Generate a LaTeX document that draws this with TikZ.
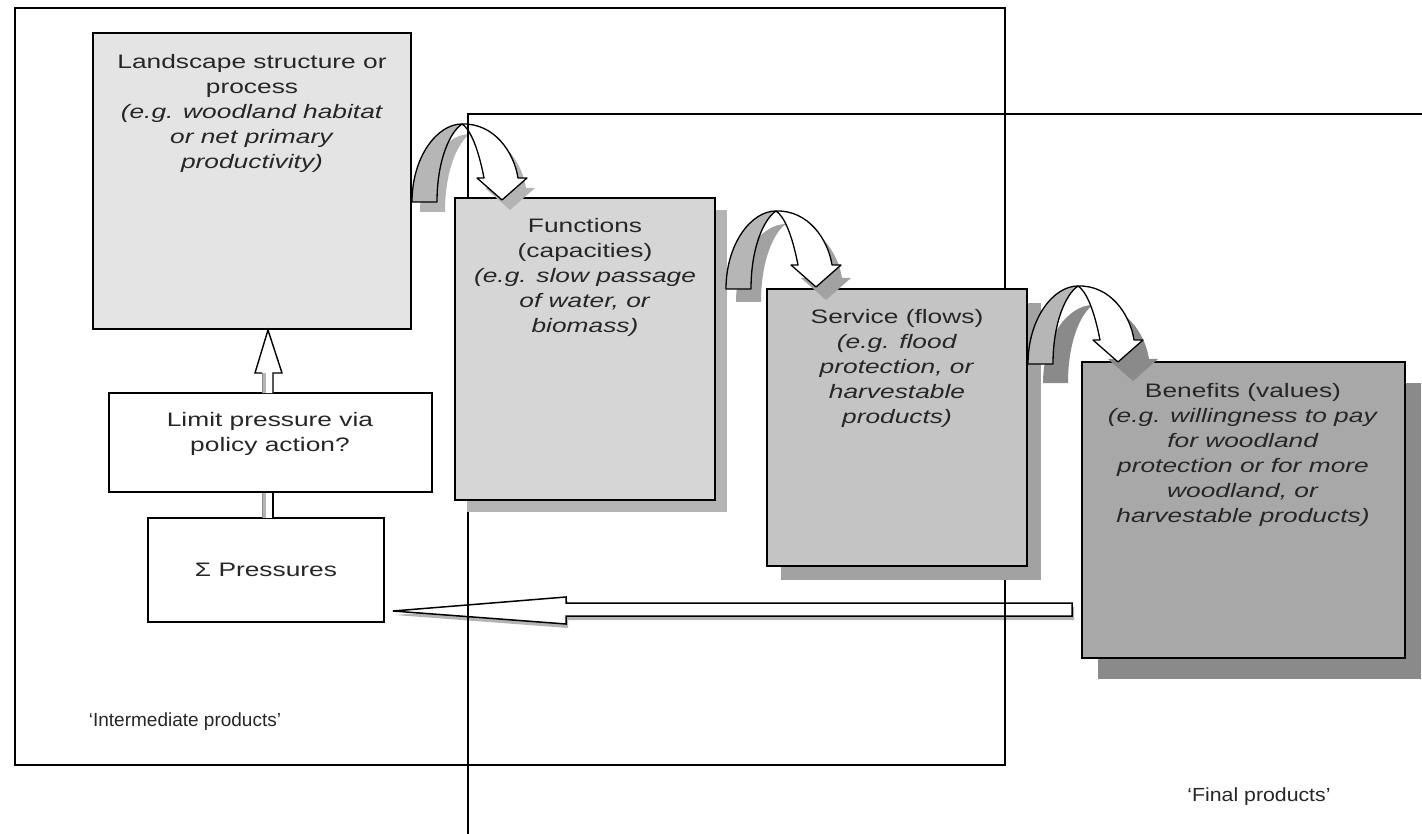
\documentclass[tikz,border=0pt]{standalone}
\usepackage{fontspec}
\setmainfont{Liberation Sans}[FakeStretch=1.35]
\newfontfamily\labfontA{Liberation Sans}[FakeStretch=1.0]
\newfontfamily\labfontB{Liberation Sans}[FakeStretch=1.12]
\usetikzlibrary{calc,shadows}
\definecolor{txtc}{HTML}{262626}
\definecolor{landfill}{HTML}{E4E4E4}
\definecolor{funcfill}{HTML}{D6D6D6}
\definecolor{servfill}{HTML}{C4C4C4}
\definecolor{benfill}{HTML}{A8A8A8}
\definecolor{shadA}{HTML}{B4B4B4}
\definecolor{shadB}{HTML}{A2A2A2}
\definecolor{shadC}{HTML}{8A8A8A}
\definecolor{bandgray}{HTML}{B6B6B6}
\newcommand\bentarrow[3]{%
\begin{scope}[shift={#1}]
 \fill[#2, shift={#3}] (0,0) .. controls (0,-45) and (25,-78) .. (50,-78)
   .. controls (82,-79) and (102,-50) .. (106,-24) -- (115,-24) -- (90,-2) -- (65,-24) -- (72,-24)
   .. controls (66,-55) and (58,-73) .. (50,-78) .. controls (38,-70) and (25,-42) .. (25,0) -- cycle;
 \filldraw[fill=bandgray, draw=black, line width=1.3pt, line join=round] (0,0) .. controls (0,-45) and (25,-78) .. (50,-78)
   .. controls (38,-70) and (25,-42) .. (25,0) -- cycle;
 \filldraw[fill=white, draw=black, line width=1.3pt, line join=round] (50,-78) .. controls (82,-79) and (102,-50) .. (106,-24)
   -- (115,-24) -- (90,-2) -- (65,-24) -- (72,-24) .. controls (66,-55) and (58,-73) .. (50,-78) -- cycle;
\end{scope}}
\begin{document}
\begin{tikzpicture}[x=1pt,y=-1pt,
  box/.style={draw=black, line width=2pt, inner sep=0pt, outer sep=0pt, anchor=north west},
  frame/.style={draw=black, line width=1.8pt},
  txt/.style={text=txtc, align=center, font=\fontsize{19.5}{25}\selectfont, inner sep=0pt},
  shad/.style 2 args={drop shadow={opacity=1, fill=#1, shadow xshift=#2pt, shadow yshift=-#2pt}}]
\useasboundingbox (0,0) rectangle (1422,834);

% horizontal hollow arrow (benefits -> pressures)
\fill[shadA] (395,615) -- (568,601) -- (568,607) -- (1074,607) -- (1074,620) -- (568,620) -- (568,628) -- cycle;
\filldraw[fill=white, draw=black, line width=1.5pt] (393,611) -- (566,597) -- (566,603) -- (1072,603) -- (1072,616) -- (566,616) -- (566,624) -- cycle;

% frames
\node[frame, minimum width=990, minimum height=757, inner sep=0pt, anchor=north west] (inter) at (14,7) {};
\coordinate (fincorner) at (468,114);
\draw[frame] (468,834) -- (fincorner) -- (1422,114);

% boxes
\node[box, fill=landfill, minimum width=318, minimum height=296] (land) at (93,33) {};
\node[box, fill=funcfill, minimum width=260, minimum height=302, shad={shadA}{12}] (func) at (455,198) {};
\node[box, fill=servfill, minimum width=260, minimum height=277, shad={shadB}{14}] (serv) at (767,289) {};
\node[box, fill=benfill, minimum width=323, minimum height=296, drop shadow={opacity=1, fill=shadC, shadow xshift=16pt, shadow yshift=-21pt}] (ben) at (1082,362) {};
\node[box, fill=white, minimum width=323, minimum height=99] (lim) at (109,393) {};
\node[box, fill=white, minimum width=236, minimum height=104] (sig) at (148,518) {};

% vertical hollow arrow (pressures -> limit -> landscape)
\fill[white] (262,373) -- (255,373) -- (268,330) -- (282,373) -- (273,373) -- (273,393) -- (262,393) -- cycle;
\fill[shadA] (262,373) rectangle (265.5,393);
\draw[black, line width=1.4pt, line join=miter] (262,373) -- (255,373) -- (268,330) -- (282,373) -- (273,373) -- (273,393);
\fill[white] (262,493) rectangle (273,518);
\fill[shadA] (262,493) rectangle (265.5,518);
\draw[black, line width=1.4pt] (273,493) -- (273,518);
\draw[black!45, line width=1pt] (262,373) -- (262,393) (262,493) -- (262,518);

% bent arrows
\bentarrow{($(land.east |- func.north)+(1,4)$)}{shadA}{(8,10)}
\bentarrow{($(func.east |- serv.north)+(11,0)$)}{shadB}{(10,13)}
\bentarrow{($(serv.east |- ben.north)+(1,2)$)}{shadC}{(15,19)}
\draw[frame] (fincorner) -- (func.north -| fincorner);

% texts
\node[txt] (landT) at (252,113) {Landscape structure or\\process\\\textit{(e.g. woodland habitat}\\\textit{or net primary}\\\textit{productivity)}};
\node[txt] (funcT) at (585,277) {Functions\\(capacities)\\\textit{(e.g. slow passage}\\\textit{of water, or}\\\textit{biomass)}};
\node[txt] (servT) at (897,368) {Service (flows)\\\textit{(e.g. flood}\\\textit{protection, or}\\\textit{harvestable}\\\textit{products)}};
\node[txt] (benT) at (1243,455) {Benefits (values)\\\textit{(e.g. willingness to pay}\\\textit{for woodland}\\\textit{protection or for more}\\\textit{woodland, or}\\\textit{harvestable products)}};
\node[txt] (limT) at (270,434) {Limit pressure via\\policy action?};
\node[txt] (sigT) at (266,570) {Σ Pressures};
\node[txt, font=\labfontA\fontsize{19}{23}\selectfont] (interT) at (185,722) {‘Intermediate products’};
\node[txt, font=\labfontB\fontsize{19}{23}\selectfont] (finT) at (1259,797) {‘Final products’};
\end{tikzpicture}
\end{document}
